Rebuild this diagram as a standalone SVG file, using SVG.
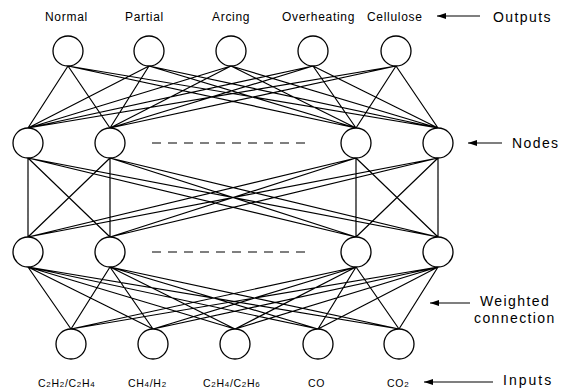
<svg xmlns="http://www.w3.org/2000/svg" width="573" height="389" viewBox="0 0 573 389">
<style>
.n{fill:#fff;stroke:#000;stroke-width:1.3}
.c{stroke:#000;stroke-width:1.2;fill:none}
.d{stroke:#000;stroke-width:1.2;stroke-dasharray:9,7}
.a{stroke:#000;stroke-width:1.2;fill:none}
.t{font-family:"Liberation Sans",Arial,sans-serif;font-size:12px;letter-spacing:0.7px;fill:#000}
.s{font-family:"Liberation Sans",Arial,sans-serif;font-size:14px;letter-spacing:1.4px;fill:#000}
.i{font-family:"Liberation Sans",Arial,sans-serif;font-size:10.5px;letter-spacing:0.7px;fill:#000}
.sub{font-size:8px}
</style>
<defs>
<marker id="ah" markerWidth="9" markerHeight="6" refX="9" refY="3" orient="auto" markerUnits="userSpaceOnUse">
<path d="M0,0 L9,3 L0,6 Z" fill="#000"/>
</marker>
</defs>
<g id="connectors">
<path class="c" d="M68,66L28,128M68,66L110,128M68,66L356,128M68,66L438,128
M149,66L28,128M149,66L110,128M149,66L356,128M149,66L438,128
M231,66L28,128M231,66L110,128M231,66L356,128M231,66L438,128
M313,66L28,128M313,66L110,128M313,66L356,128M313,66L438,128
M396,66L28,128M396,66L110,128M396,66L356,128M396,66L438,128"/>
<path class="c" d="M28,158L28,237M28,158L110,237M28,158L356,237M28,158L438,237
M110,158L28,237M110,158L110,237M110,158L356,237M110,158L438,237
M356,158L28,237M356,158L110,237M356,158L356,237M356,158L438,237
M438,158L28,237M438,158L110,237M438,158L356,237M438,158L438,237"/>
<path class="c" d="M28,267L71,329M28,267L153,329M28,267L235,329M28,267L318,329M28,267L399,329
M110,267L71,329M110,267L153,329M110,267L235,329M110,267L318,329M110,267L399,329
M356,267L71,329M356,267L153,329M356,267L235,329M356,267L318,329M356,267L399,329
M438,267L71,329M438,267L153,329M438,267L235,329M438,267L318,329M438,267L399,329"/>
<line class="d" x1="152" y1="143" x2="308" y2="143"/>
<line class="d" x1="152" y1="252" x2="308" y2="252"/>
</g>
<g id="out-normal"><circle class="n" cx="68" cy="51" r="15"/><text class="t" x="45" y="21">Normal</text></g>
<g id="out-partial"><circle class="n" cx="149" cy="51" r="15"/><text class="t" x="125" y="21">Partial</text></g>
<g id="out-arcing"><circle class="n" cx="231" cy="51" r="15"/><text class="t" x="212" y="21">Arcing</text></g>
<g id="out-overheating"><circle class="n" cx="313" cy="51" r="15"/><text class="t" x="282" y="21">Overheating</text></g>
<g id="out-cellulose"><circle class="n" cx="396" cy="51" r="15"/><text class="t" x="367" y="21">Cellulose</text></g>
<g id="h1-1"><circle class="n" cx="28" cy="143" r="15"/></g>
<g id="h1-2"><circle class="n" cx="110" cy="143" r="15"/></g>
<g id="h1-3"><circle class="n" cx="356" cy="143" r="15"/></g>
<g id="h1-4"><circle class="n" cx="438" cy="143" r="15"/></g>
<g id="h2-1"><circle class="n" cx="28" cy="252" r="15"/></g>
<g id="h2-2"><circle class="n" cx="110" cy="252" r="15"/></g>
<g id="h2-3"><circle class="n" cx="356" cy="252" r="15"/></g>
<g id="h2-4"><circle class="n" cx="438" cy="252" r="15"/></g>
<g id="in-1"><circle class="n" cx="71" cy="344" r="15"/><text class="i" x="38" y="387">C<tspan class="sub">2</tspan>H<tspan class="sub">2</tspan>/C<tspan class="sub">2</tspan>H<tspan class="sub">4</tspan></text></g>
<g id="in-2"><circle class="n" cx="153" cy="344" r="15"/><text class="i" x="128" y="387">CH<tspan class="sub">4</tspan>/H<tspan class="sub">2</tspan></text></g>
<g id="in-3"><circle class="n" cx="235" cy="344" r="15"/><text class="i" x="203" y="387">C<tspan class="sub">2</tspan>H<tspan class="sub">4</tspan>/C<tspan class="sub">2</tspan>H<tspan class="sub">6</tspan></text></g>
<g id="in-4"><circle class="n" cx="318" cy="344" r="15"/><text class="i" x="308" y="387">CO</text></g>
<g id="in-5"><circle class="n" cx="399" cy="344" r="15"/><text class="i" x="387" y="387">CO<tspan class="sub">2</tspan></text></g>
<g id="legend">
<line class="a" x1="480" y1="16" x2="437" y2="16" marker-end="url(#ah)"/>
<text class="s" x="493" y="22">Outputs</text>
<line class="a" x1="502" y1="143" x2="468" y2="143" marker-end="url(#ah)"/>
<text class="s" x="512" y="148">Nodes</text>
<line class="a" x1="470" y1="303" x2="430" y2="303" marker-end="url(#ah)"/>
<text class="s" x="480" y="306">Weighted</text>
<text class="s" x="474" y="323">connection</text>
<line class="a" x1="493" y1="382" x2="424" y2="382" marker-end="url(#ah)"/>
<text class="s" x="503" y="385" style="letter-spacing:2px">Inputs</text>
</g>
</svg>
